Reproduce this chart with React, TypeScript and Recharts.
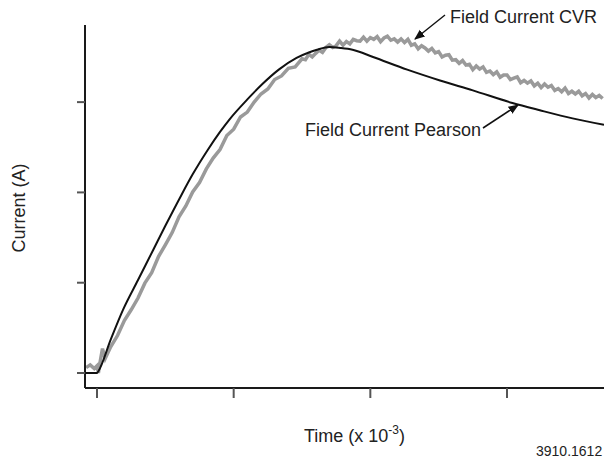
import { LineChart, Line, XAxis, YAxis } from 'recharts';

// time in ms (x 10^-3), current in arbitrary tick units
const cvrTime = [
  -0.08, -0.05, -0.02, 0.0, 0.01, 0.02, 0.04, 0.06, 0.1, 0.15, 0.2, 0.25, 0.3, 0.35, 0.4, 0.45, 0.5,
  0.55, 0.6, 0.65, 0.7, 0.75, 0.8, 0.85, 0.9, 0.95, 1.0, 1.05, 1.1, 1.15, 1.2, 1.25, 1.3, 1.35, 1.4,
  1.45, 1.5, 1.525, 1.55, 1.575, 1.6, 1.625, 1.65, 1.675, 1.7, 1.725, 1.75, 1.775, 1.8, 1.825, 1.85,
  1.875, 1.9, 1.925, 1.95, 1.975, 2.0, 2.025, 2.05, 2.075, 2.1, 2.125, 2.15, 2.175, 2.2, 2.225, 2.25,
  2.275, 2.3, 2.325, 2.35, 2.375, 2.4, 2.425, 2.45, 2.475, 2.5, 2.525, 2.55, 2.575, 2.6, 2.625, 2.65,
  2.675, 2.7, 2.725, 2.75, 2.775, 2.8, 2.825, 2.85, 2.875, 2.9, 2.925, 2.95, 2.975, 3.0, 3.025, 3.05,
  3.075, 3.1, 3.125, 3.15, 3.175, 3.2, 3.225, 3.25, 3.275, 3.3, 3.325, 3.35, 3.375, 3.4, 3.425, 3.45,
  3.475, 3.5, 3.525, 3.55, 3.575, 3.6, 3.625, 3.65, 3.675, 3.7,
];
const cvrCurrent = [
  0.06, 0.09, 0.05, 0.08, 0.0, 0.1, 0.27, 0.16, 0.29, 0.415, 0.58, 0.7, 0.83, 0.995, 1.11, 1.29, 1.42,
  1.555, 1.73, 1.85, 2.005, 2.11, 2.26, 2.38, 2.475, 2.63, 2.7, 2.835, 2.89, 3.0, 3.09, 3.145, 3.25, 3.29, 3.375,
  3.39, 3.48, 3.47, 3.53, 3.5, 3.54, 3.575, 3.55, 3.605, 3.635, 3.605, 3.625, 3.675, 3.63, 3.67, 3.645,
  3.695, 3.68, 3.675, 3.72, 3.675, 3.715, 3.695, 3.725, 3.67, 3.71, 3.73, 3.685, 3.7, 3.665, 3.7, 3.66,
  3.695, 3.63, 3.645, 3.59, 3.625, 3.6, 3.565, 3.595, 3.545, 3.56, 3.5, 3.52, 3.525, 3.465, 3.47, 3.43,
  3.46, 3.41, 3.42, 3.36, 3.4, 3.365, 3.39, 3.33, 3.345, 3.305, 3.335, 3.275, 3.3, 3.3, 3.25, 3.265,
  3.28, 3.215, 3.24, 3.21, 3.235, 3.18, 3.21, 3.16, 3.2, 3.165, 3.185, 3.13, 3.15, 3.115, 3.155, 3.095,
  3.12, 3.09, 3.12, 3.07, 3.095, 3.045, 3.085, 3.05, 3.075, 3.04,
];

const pearsonTime = [
  -0.09, 0.0, 0.01, 0.1, 0.19, 0.3, 0.41, 0.5, 0.61, 0.7, 0.81, 0.9, 0.97, 1.1, 1.21, 1.33, 1.46, 1.55,
  1.61, 1.7, 1.78, 1.87, 2.02, 2.27, 2.51, 2.75, 3.04, 3.24, 3.48, 3.71,
];
const pearsonCurrent = [
  0, 0, 0.02, 0.37, 0.7, 1.03, 1.36, 1.63, 1.95, 2.2, 2.47, 2.67, 2.81, 3.03, 3.2, 3.36, 3.49, 3.55,
  3.58, 3.61, 3.6, 3.58, 3.5, 3.36, 3.24, 3.13, 2.99, 2.91, 2.82, 2.75,
];

const xTicks = [0, 1, 2, 3];
const yTicks = [0, 1, 2, 3];

const cvrData = cvrTime.map((t, i) => ({ t, v: cvrCurrent[i] }));
const pearsonData = pearsonTime.map((t, i) => ({ t, v: pearsonCurrent[i] }));

const font = '"Liberation Sans", Arial, Helvetica, sans-serif';

export default function App() {
  return (
    <div style={{ position: 'absolute', left: 0, top: 0, width: 604, height: 466, background: '#fff' }}>
      <LineChart width={604} height={466} margin={{ top: 25, right: 0, bottom: 0, left: 0 }}>
        <XAxis
          dataKey="t"
          type="number"
          domain={[-0.088, 3.71]}
          allowDataOverflow
          ticks={xTicks}
          tickFormatter={() => ''}
          tickSize={10}
          height={78}
          axisLine={{ stroke: '#1a1a1a', strokeWidth: 2 }}
          tickLine={{ stroke: '#555', strokeWidth: 2 }}
        />
        <YAxis
          dataKey="v"
          type="number"
          domain={[-0.166, 3.854]}
          allowDataOverflow
          ticks={yTicks}
          tickFormatter={() => ''}
          tickSize={8}
          width={85}
          axisLine={{ stroke: '#1a1a1a', strokeWidth: 2 }}
          tickLine={{ stroke: '#555', strokeWidth: 2 }}
        />
        <Line
          data={cvrData}
          dataKey="v"
          type="linear"
          stroke="#9a9a9a"
          strokeWidth={3.5}
          dot={false}
          isAnimationActive={false}
        />
        <Line
          data={pearsonData}
          dataKey="v"
          type="monotone"
          stroke="#111"
          strokeWidth={2}
          dot={false}
          isAnimationActive={false}
        />
      </LineChart>
      <svg
        width={604}
        height={466}
        style={{ position: 'absolute', left: 0, top: 0, pointerEvents: 'none' }}
        fontFamily={font}
      >
        <defs>
          <marker id="head" viewBox="0 0 10 10" refX="9" refY="5" markerWidth="7" markerHeight="7" orient="auto">
            <path d="M0,1 L10,5 L0,9 z" fill="#111" />
          </marker>
        </defs>
        <text x={450} y={23} fontSize={18} fill="#222">Field Current CVR</text>
        <line x1={445} y1={15} x2={415} y2={39} stroke="#111" strokeWidth={1.5} markerEnd="url(#head)" />
        <text x={305} y={136} fontSize={18} fill="#222">Field Current Pearson</text>
        <line x1={483} y1={128} x2={518} y2={105} stroke="#111" strokeWidth={1.5} markerEnd="url(#head)" />
        <text x={304} y={442} fontSize={18} fill="#222">
          Time (x 10<tspan fontSize={12} dy={-8}>-3</tspan><tspan dy={8}>)</tspan>
        </text>
        <text x={25} y={208} fontSize={18} fill="#222" textAnchor="middle" transform="rotate(-90 25 208)">
          Current (A)
        </text>
        <text x={536} y={456} fontSize={14} fill="#222">3910.1612</text>
      </svg>
    </div>
  );
}
